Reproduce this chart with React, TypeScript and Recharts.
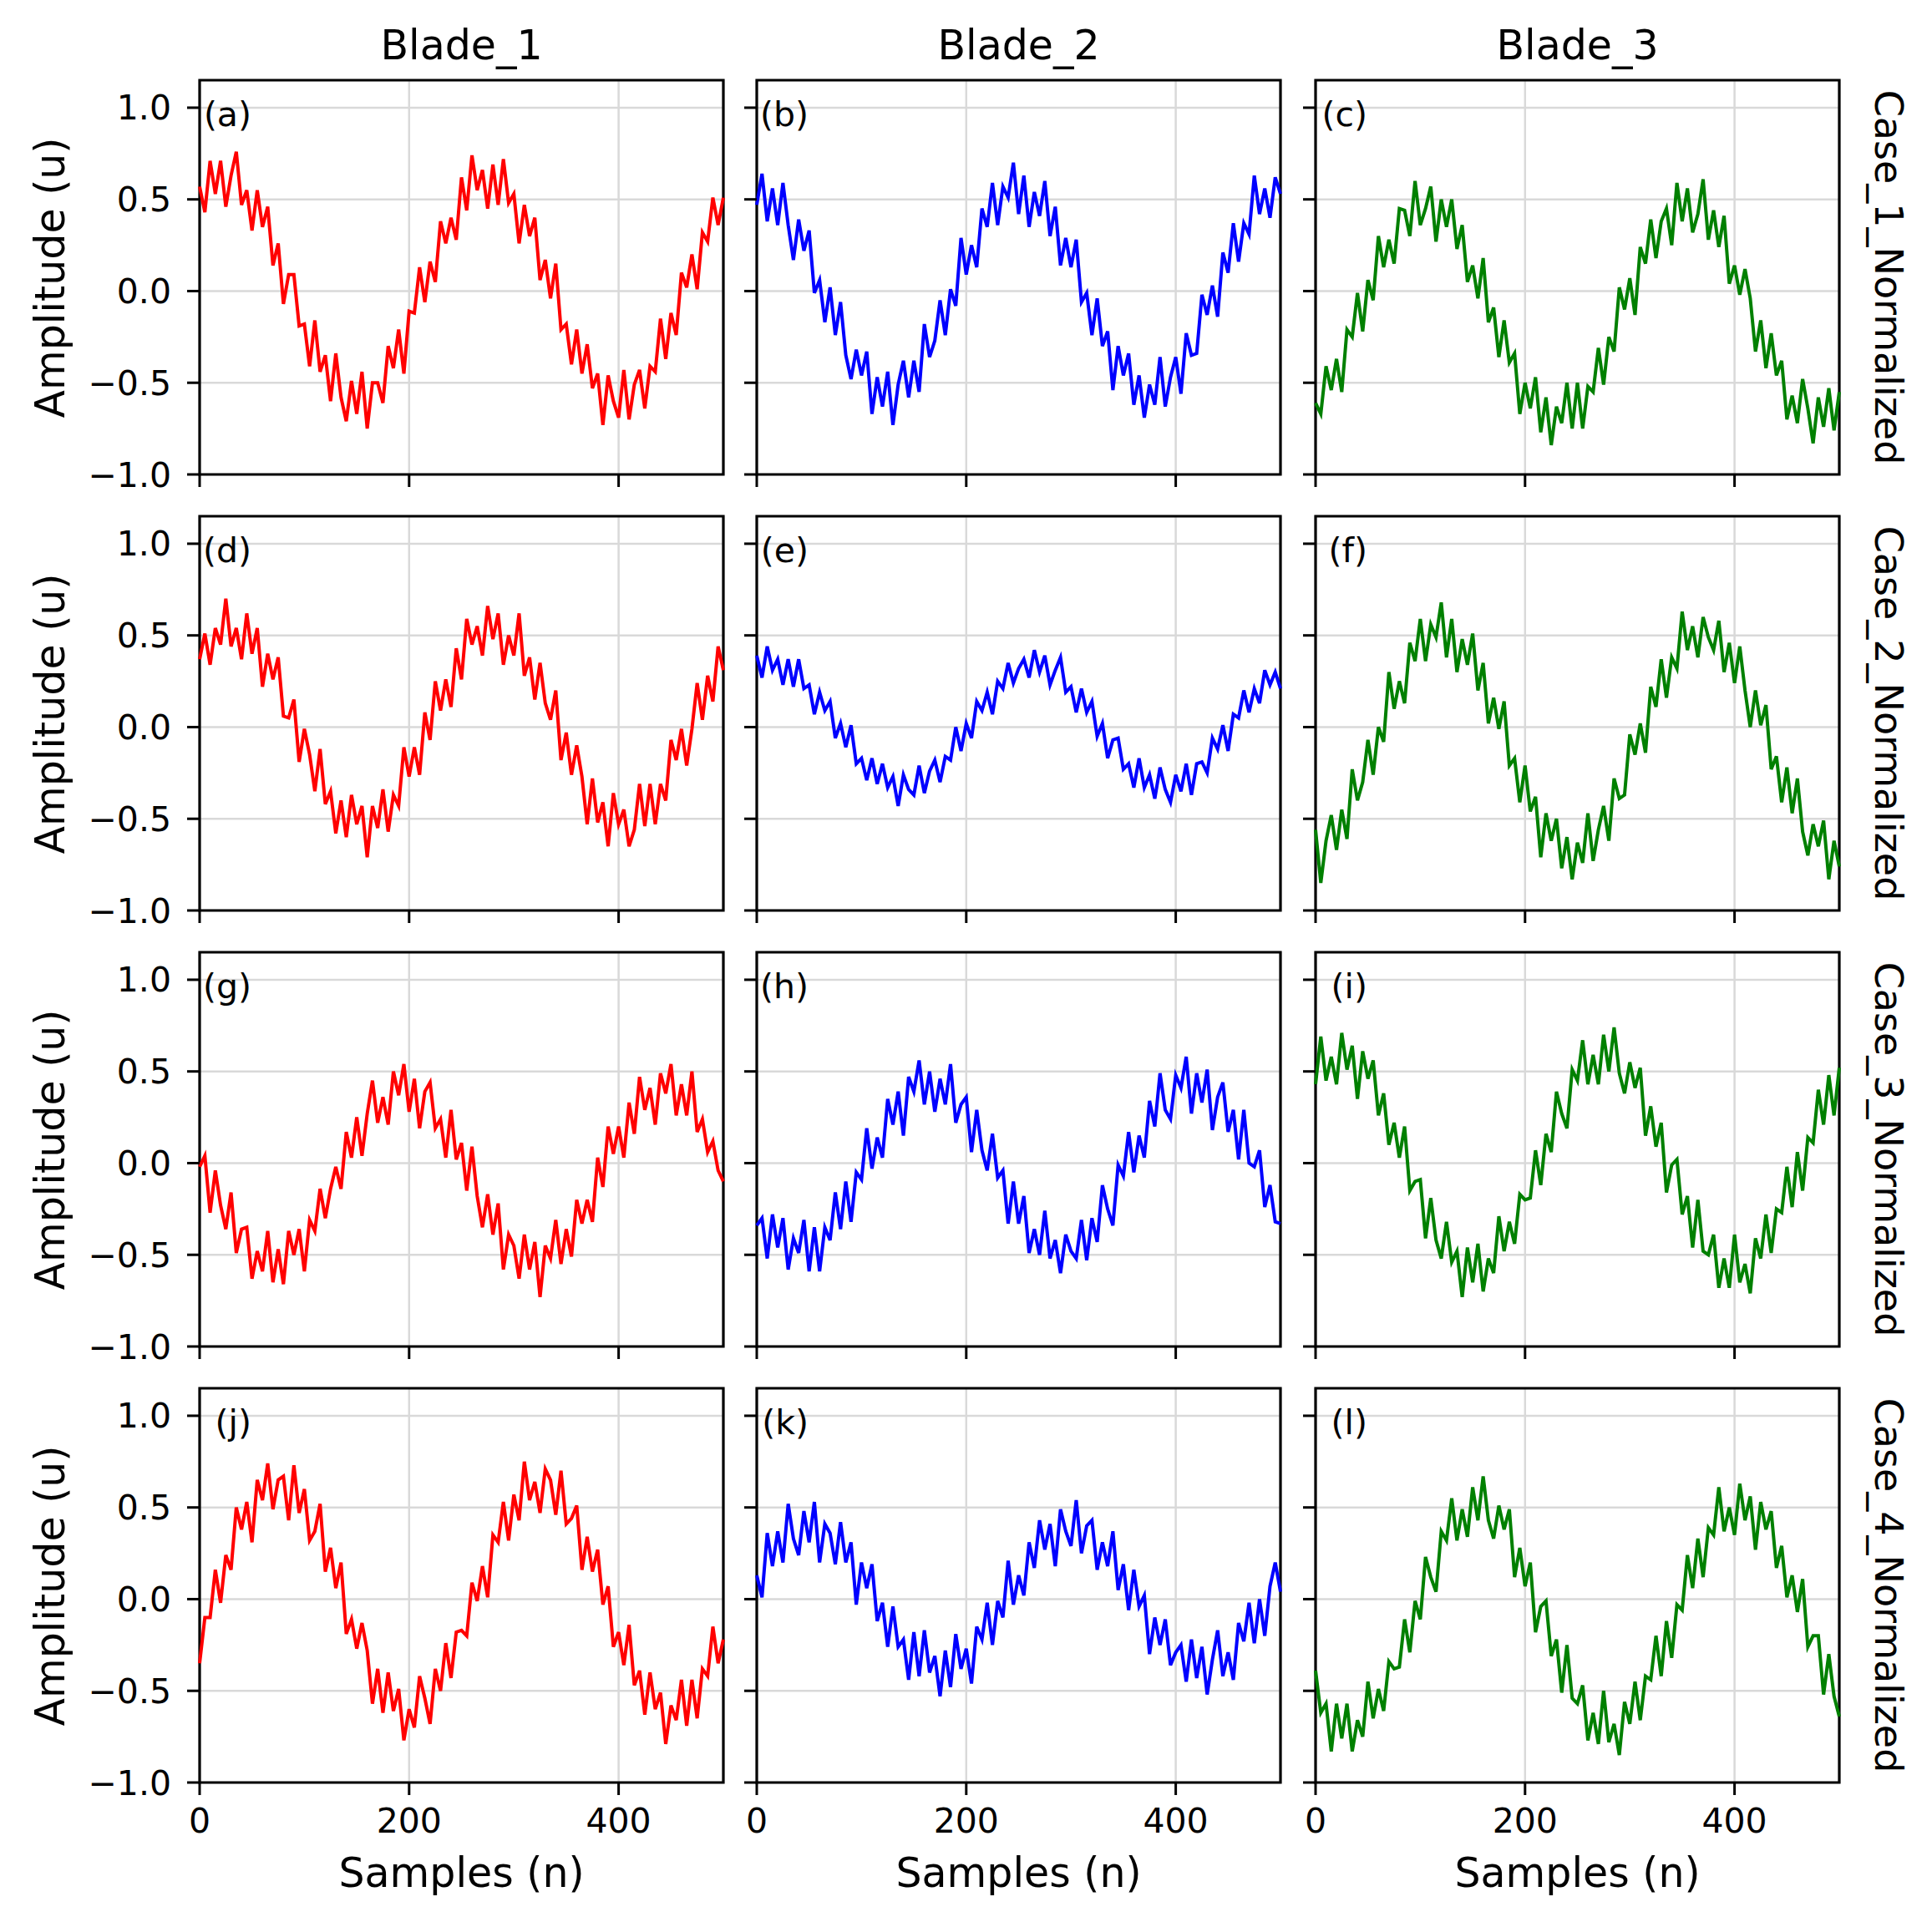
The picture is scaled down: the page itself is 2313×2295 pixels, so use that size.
import { CartesianGrid, Line, LineChart, ReferenceArea, XAxis, YAxis } from "recharts"

// amplitude every 5 samples (n = 0, 5, ..., 500)
const blade1Case1 = [
  0.57, 0.43, 0.71, 0.53, 0.71, 0.46, 0.63, 0.76, 0.47, 0.55,
  0.33, 0.55, 0.35, 0.46, 0.14, 0.26, -0.07, 0.09, 0.09, -0.19,
  -0.18, -0.41, -0.16, -0.44, -0.35, -0.6, -0.34, -0.58, -0.71, -0.49,
  -0.67, -0.44, -0.75, -0.5, -0.5, -0.61, -0.3, -0.42, -0.21, -0.45,
  -0.11, -0.12, 0.13, -0.06, 0.16, 0.05, 0.38, 0.26, 0.4, 0.28,
  0.62, 0.44, 0.74, 0.55, 0.66, 0.45, 0.69, 0.47, 0.72, 0.48,
  0.53, 0.26, 0.47, 0.3, 0.4, 0.06, 0.17, -0.04, 0.15, -0.21,
  -0.18, -0.4, -0.21, -0.45, -0.29, -0.53, -0.45, -0.73, -0.46, -0.6,
  -0.69, -0.43, -0.7, -0.51, -0.43, -0.64, -0.41, -0.44, -0.15, -0.37,
  -0.12, -0.24, 0.1, 0.02, 0.2, 0.01, 0.32, 0.27, 0.51, 0.36,
  0.51,
]
const blade2Case1 = [
  0.47, 0.64, 0.38, 0.56, 0.36, 0.59, 0.36, 0.17, 0.39, 0.22,
  0.33, -0.01, 0.06, -0.17, 0.02, -0.24, -0.06, -0.35, -0.48, -0.32,
  -0.46, -0.33, -0.67, -0.47, -0.63, -0.44, -0.73, -0.51, -0.38, -0.58,
  -0.38, -0.55, -0.18, -0.36, -0.27, -0.05, -0.24, 0.01, -0.08, 0.29,
  0.09, 0.25, 0.13, 0.45, 0.35, 0.59, 0.36, 0.57, 0.51, 0.7,
  0.42, 0.63, 0.35, 0.54, 0.41, 0.6, 0.3, 0.46, 0.14, 0.29,
  0.13, 0.28, -0.06, -0.01, -0.24, -0.04, -0.3, -0.22, -0.54, -0.3,
  -0.46, -0.34, -0.62, -0.46, -0.69, -0.51, -0.62, -0.36, -0.63, -0.47,
  -0.36, -0.56, -0.23, -0.35, -0.34, -0.02, -0.13, 0.03, -0.14, 0.21,
  0.1, 0.37, 0.16, 0.37, 0.31, 0.63, 0.42, 0.56, 0.4, 0.62,
  0.53,
]
const blade3Case1 = [
  -0.61, -0.67, -0.41, -0.54, -0.37, -0.55, -0.21, -0.25, -0.01, -0.22,
  0.06, -0.05, 0.3, 0.13, 0.28, 0.15, 0.45, 0.44, 0.3, 0.6,
  0.36, 0.45, 0.57, 0.27, 0.5, 0.35, 0.5, 0.23, 0.36, 0.05,
  0.14, -0.04, 0.18, -0.17, -0.09, -0.36, -0.16, -0.39, -0.34, -0.67,
  -0.5, -0.64, -0.47, -0.77, -0.58, -0.84, -0.63, -0.72, -0.5, -0.75,
  -0.5, -0.75, -0.52, -0.55, -0.31, -0.51, -0.25, -0.33, 0.02, -0.1,
  0.07, -0.13, 0.24, 0.15, 0.39, 0.18, 0.38, 0.45, 0.25, 0.59,
  0.38, 0.56, 0.32, 0.42, 0.61, 0.28, 0.44, 0.24, 0.41, 0.04,
  0.14, -0.02, 0.12, -0.04, -0.33, -0.16, -0.42, -0.23, -0.46, -0.38,
  -0.7, -0.57, -0.72, -0.48, -0.64, -0.83, -0.58, -0.74, -0.53, -0.76,
  -0.55,
]
const blade1Case2 = [
  0.37, 0.51, 0.34, 0.54, 0.45, 0.7, 0.44, 0.54, 0.37, 0.62,
  0.4, 0.54, 0.22, 0.4, 0.26, 0.38, 0.06, 0.05, 0.15, -0.19,
  -0.01, -0.15, -0.35, -0.12, -0.42, -0.35, -0.58, -0.4, -0.6, -0.37,
  -0.53, -0.43, -0.71, -0.43, -0.55, -0.34, -0.57, -0.37, -0.43, -0.11,
  -0.27, -0.11, -0.26, 0.08, -0.07, 0.25, 0.09, 0.26, 0.11, 0.43,
  0.26, 0.59, 0.45, 0.55, 0.39, 0.66, 0.48, 0.62, 0.34, 0.5,
  0.39, 0.62, 0.28, 0.38, 0.15, 0.35, 0.13, 0.04, 0.2, -0.18,
  -0.03, -0.26, -0.1, -0.27, -0.53, -0.28, -0.52, -0.41, -0.65, -0.36,
  -0.53, -0.45, -0.65, -0.56, -0.31, -0.54, -0.31, -0.53, -0.31, -0.4,
  -0.07, -0.18, -0.01, -0.21, -0.01, 0.24, 0.04, 0.28, 0.14, 0.44,
  0.31,
]
const blade2Case2 = [
  0.39, 0.27, 0.44, 0.31, 0.37, 0.23, 0.37, 0.22, 0.37, 0.21,
  0.23, 0.07, 0.19, 0.09, 0.14, -0.06, 0.02, -0.11, 0.01, -0.2,
  -0.17, -0.29, -0.17, -0.31, -0.2, -0.33, -0.27, -0.43, -0.26, -0.34,
  -0.37, -0.21, -0.36, -0.24, -0.18, -0.3, -0.16, -0.18, 0.0, -0.13,
  0.02, -0.06, 0.14, 0.09, 0.19, 0.07, 0.25, 0.21, 0.35, 0.24,
  0.32, 0.37, 0.27, 0.42, 0.3, 0.39, 0.23, 0.31, 0.38, 0.19,
  0.22, 0.08, 0.21, 0.08, 0.14, -0.05, 0.02, -0.17, -0.07, -0.06,
  -0.23, -0.2, -0.33, -0.17, -0.33, -0.26, -0.39, -0.22, -0.34, -0.41,
  -0.26, -0.35, -0.2, -0.37, -0.2, -0.19, -0.25, -0.06, -0.12, 0.01,
  -0.13, 0.07, 0.05, 0.2, 0.08, 0.21, 0.13, 0.31, 0.23, 0.3,
  0.21,
]
const blade3Case2 = [
  -0.56, -0.85, -0.62, -0.48, -0.67, -0.45, -0.61, -0.23, -0.4, -0.3,
  -0.07, -0.26, 0.0, -0.08, 0.3, 0.1, 0.25, 0.13, 0.46, 0.36,
  0.59, 0.36, 0.56, 0.49, 0.68, 0.38, 0.59, 0.3, 0.48, 0.34,
  0.51, 0.2, 0.35, 0.02, 0.16, -0.01, 0.14, -0.21, -0.17, -0.41,
  -0.21, -0.46, -0.38, -0.71, -0.47, -0.62, -0.5, -0.77, -0.6, -0.83,
  -0.63, -0.74, -0.47, -0.73, -0.56, -0.43, -0.62, -0.28, -0.39, -0.37,
  -0.04, -0.15, 0.02, -0.14, 0.22, 0.11, 0.37, 0.16, 0.38, 0.32,
  0.63, 0.42, 0.55, 0.38, 0.6, 0.49, 0.42, 0.58, 0.3, 0.46,
  0.24, 0.44, 0.2, 0.0, 0.2, 0.01, 0.12, -0.23, -0.16, -0.41,
  -0.22, -0.47, -0.28, -0.57, -0.7, -0.53, -0.65, -0.51, -0.83, -0.62,
  -0.76,
]
const blade1Case3 = [
  -0.02, 0.04, -0.27, -0.04, -0.23, -0.36, -0.16, -0.49, -0.36, -0.35,
  -0.63, -0.48, -0.59, -0.37, -0.65, -0.47, -0.66, -0.37, -0.5, -0.36,
  -0.59, -0.31, -0.37, -0.14, -0.3, -0.14, -0.02, -0.14, 0.17, 0.03,
  0.25, 0.04, 0.27, 0.45, 0.22, 0.36, 0.21, 0.5, 0.37, 0.54,
  0.28, 0.46, 0.19, 0.39, 0.44, 0.19, 0.24, 0.03, 0.29, 0.02,
  0.11, -0.15, 0.09, -0.18, -0.35, -0.17, -0.39, -0.22, -0.58, -0.39,
  -0.45, -0.63, -0.39, -0.58, -0.43, -0.73, -0.45, -0.52, -0.31, -0.55,
  -0.36, -0.51, -0.2, -0.33, -0.2, -0.32, 0.03, -0.13, 0.2, 0.05,
  0.2, 0.03, 0.33, 0.16, 0.47, 0.29, 0.41, 0.21, 0.49, 0.38,
  0.54, 0.26, 0.43, 0.26, 0.5, 0.17, 0.24, 0.06, 0.12, -0.04,
  -0.1,
]
const blade2Case3 = [
  -0.34, -0.3, -0.52, -0.28, -0.46, -0.3, -0.58, -0.41, -0.49, -0.31,
  -0.59, -0.35, -0.59, -0.35, -0.42, -0.16, -0.36, -0.1, -0.32, -0.05,
  -0.09, 0.19, -0.03, 0.14, 0.03, 0.35, 0.21, 0.39, 0.15, 0.47,
  0.39, 0.56, 0.32, 0.5, 0.28, 0.46, 0.32, 0.54, 0.22, 0.32,
  0.36, 0.06, 0.29, 0.07, -0.04, 0.16, -0.08, -0.04, -0.33, -0.1,
  -0.33, -0.18, -0.49, -0.36, -0.5, -0.26, -0.52, -0.42, -0.6, -0.39,
  -0.48, -0.52, -0.31, -0.53, -0.3, -0.43, -0.12, -0.25, -0.34, -0.01,
  -0.07, 0.17, -0.05, 0.15, 0.03, 0.34, 0.2, 0.49, 0.29, 0.24,
  0.48, 0.41, 0.58, 0.27, 0.49, 0.33, 0.51, 0.18, 0.36, 0.44,
  0.17, 0.29, 0.02, 0.29, 0.0, -0.02, 0.07, -0.24, -0.12, -0.32,
  -0.33,
]
const blade3Case3 = [
  0.43, 0.69, 0.45, 0.58, 0.43, 0.71, 0.51, 0.64, 0.35, 0.61,
  0.46, 0.56, 0.26, 0.38, 0.1, 0.22, 0.03, 0.2, -0.15, -0.1,
  -0.09, -0.41, -0.19, -0.42, -0.52, -0.32, -0.54, -0.48, -0.73, -0.46,
  -0.65, -0.44, -0.7, -0.52, -0.6, -0.29, -0.48, -0.32, -0.44, -0.17,
  -0.2, -0.19, 0.07, -0.12, 0.16, 0.06, 0.39, 0.27, 0.19, 0.51,
  0.45, 0.67, 0.43, 0.59, 0.43, 0.7, 0.5, 0.74, 0.49, 0.38,
  0.55, 0.41, 0.52, 0.15, 0.31, 0.09, 0.22, -0.16, -0.01, 0.02,
  -0.28, -0.18, -0.46, -0.2, -0.48, -0.5, -0.39, -0.68, -0.52, -0.68,
  -0.39, -0.65, -0.55, -0.71, -0.41, -0.52, -0.28, -0.49, -0.25, -0.27,
  -0.02, -0.24, 0.06, -0.15, 0.14, 0.11, 0.4, 0.21, 0.48, 0.26,
  0.52,
]
const blade1Case4 = [
  -0.35, -0.1, -0.1, 0.16, -0.02, 0.24, 0.16, 0.5, 0.38, 0.53,
  0.31, 0.65, 0.54, 0.74, 0.49, 0.65, 0.67, 0.43, 0.73, 0.47,
  0.6, 0.32, 0.37, 0.52, 0.15, 0.28, 0.06, 0.2, -0.19, -0.11,
  -0.27, -0.13, -0.28, -0.57, -0.38, -0.62, -0.4, -0.61, -0.49, -0.77,
  -0.6, -0.7, -0.42, -0.54, -0.68, -0.38, -0.5, -0.24, -0.43, -0.18,
  -0.17, -0.2, 0.09, -0.01, 0.18, 0.01, 0.35, 0.31, 0.53, 0.32,
  0.57, 0.43, 0.75, 0.54, 0.64, 0.47, 0.71, 0.65, 0.46, 0.7,
  0.41, 0.44, 0.51, 0.16, 0.34, 0.15, 0.27, -0.03, 0.07, -0.26,
  -0.18, -0.36, -0.14, -0.47, -0.39, -0.63, -0.4, -0.6, -0.51, -0.79,
  -0.58, -0.66, -0.44, -0.69, -0.44, -0.65, -0.38, -0.42, -0.15, -0.35,
  -0.22,
]
const blade2Case4 = [
  0.13, 0.01, 0.36, 0.18, 0.37, 0.2, 0.52, 0.33, 0.24, 0.48,
  0.31, 0.53, 0.2, 0.41, 0.36, 0.19, 0.42, 0.2, 0.31, -0.03,
  0.2, 0.06, 0.19, -0.12, -0.02, -0.26, -0.04, -0.26, -0.22, -0.44,
  -0.18, -0.42, -0.17, -0.4, -0.31, -0.53, -0.28, -0.48, -0.19, -0.38,
  -0.27, -0.46, -0.15, -0.22, -0.02, -0.25, -0.01, -0.1, 0.21, -0.03,
  0.13, 0.02, 0.31, 0.17, 0.43, 0.27, 0.41, 0.18, 0.49, 0.37,
  0.29, 0.54, 0.25, 0.4, 0.43, 0.16, 0.31, 0.18, 0.37, 0.05,
  0.19, -0.06, 0.16, -0.04, 0.02, -0.3, -0.1, -0.25, -0.11, -0.36,
  -0.29, -0.25, -0.45, -0.22, -0.43, -0.26, -0.52, -0.33, -0.17, -0.42,
  -0.29, -0.44, -0.13, -0.23, -0.02, -0.24, 0.0, -0.2, 0.07, 0.2,
  0.04,
]
const blade3Case4 = [
  -0.39, -0.62, -0.57, -0.83, -0.57, -0.76, -0.57, -0.83, -0.66, -0.75,
  -0.45, -0.65, -0.49, -0.61, -0.34, -0.38, -0.37, -0.11, -0.29, -0.01,
  -0.11, 0.23, 0.12, 0.04, 0.37, 0.32, 0.55, 0.32, 0.49, 0.34,
  0.61, 0.43, 0.67, 0.43, 0.33, 0.51, 0.38, 0.49, 0.12, 0.28,
  0.07, 0.2, -0.18, -0.04, -0.01, -0.31, -0.22, -0.51, -0.25, -0.54,
  -0.57, -0.47, -0.77, -0.62, -0.79, -0.5, -0.78, -0.68, -0.85, -0.56,
  -0.68, -0.45, -0.66, -0.42, -0.44, -0.2, -0.42, -0.12, -0.32, -0.03,
  -0.06, 0.24, 0.06, 0.33, 0.12, 0.39, 0.35, 0.61, 0.37, 0.5,
  0.35, 0.63, 0.43, 0.56, 0.27, 0.53, 0.38, 0.48, 0.17, 0.29,
  0.01, 0.13, -0.07, 0.11, -0.26, -0.2, -0.2, -0.52, -0.3, -0.53,
  -0.64,
]

const SAMPLE_STEP = 5

const blades = ["Blade_1", "Blade_2", "Blade_3"]
const cases = ["Case_1_Normalized", "Case_2_Normalized", "Case_3_Normalized", "Case_4_Normalized"]
const letters = [
  ["(a)", "(b)", "(c)"],
  ["(d)", "(e)", "(f)"],
  ["(g)", "(h)", "(i)"],
  ["(j)", "(k)", "(l)"],
]
const series = [
  [blade1Case1, blade2Case1, blade3Case1],
  [blade1Case2, blade2Case2, blade3Case2],
  [blade1Case3, blade2Case3, blade3Case3],
  [blade1Case4, blade2Case4, blade3Case4],
]
const bladeColors = ["#ff0000", "#0000ff", "#008000"]
const xTicks = [0, 200, 400]
const yTicks = [-1, -0.5, 0, 0.5, 1]
const X_DOMAIN: [number, number] = [0, 500]
const Y_DOMAIN: [number, number] = [-1, 1.15]

// plot-area geometry in page pixels
const COL_LEFT = [239, 906, 1575]
const ROW_TOP = [96, 618, 1140, 1662]
const PLOT_W = 627
const PLOT_H = 472

const FONT = "'DejaVu Sans', sans-serif"
const TICK_SIZE = 41
const LABEL_SIZE = 49
const CASE_SIZE = 46

const fmtY = (v: number) => (v < 0 ? "\u2212" : "") + Math.abs(v).toFixed(1)

function Panel({ row, col }: { row: number; col: number }) {
  const ml = 200
  const mt = 20
  const mr = 20
  const mb = 110
  const data = series[row][col].map((v, i) => ({ n: i * SAMPLE_STEP, v }))
  const showY = col === 0
  const showX = row === 3

  return (
    <div style={{ position: "absolute", left: COL_LEFT[col] - ml, top: ROW_TOP[row] - mt }}>
      <LineChart
        width={PLOT_W + ml + mr}
        height={PLOT_H + mt + mb}
        data={data}
        margin={{ top: mt, right: mr, left: 0, bottom: 0 }}
      >
        <CartesianGrid stroke="#d9d9d9" strokeWidth={2.5} />
        <XAxis
          dataKey="n"
          type="number"
          domain={X_DOMAIN}
          ticks={xTicks}
          height={mb}
          axisLine={false}
          tickLine={{ stroke: "#000", strokeWidth: 3 }}
          tickSize={15}
          tickMargin={16}
          tick={{ fontSize: TICK_SIZE, fill: "#000", fontFamily: FONT }}
          tickFormatter={(v) => (showX ? String(v) : "")}
        />
        <YAxis
          type="number"
          domain={Y_DOMAIN}
          ticks={yTicks}
          width={ml}
          axisLine={false}
          tickLine={{ stroke: "#000", strokeWidth: 3 }}
          tickSize={15}
          tickMargin={19}
          tick={{ fontSize: TICK_SIZE, fill: "#000", fontFamily: FONT }}
          tickFormatter={(v) => (showY ? fmtY(v) : "")}
          allowDataOverflow
        />
        <Line
          type="linear"
          dataKey="v"
          stroke={bladeColors[col]}
          strokeWidth={4}
          dot={false}
          isAnimationActive={false}
        />
        <ReferenceArea
          x1={X_DOMAIN[0]}
          x2={X_DOMAIN[1]}
          y1={Y_DOMAIN[0]}
          y2={Y_DOMAIN[1]}
          fill="#fff"
          fillOpacity={0}
          stroke="#000"
          strokeWidth={3.2}
        />
      </LineChart>
      <div
        style={{
          position: "absolute",
          left: ml + 62 - 120,
          width: 120,
          textAlign: "right",
          top: mt + 21,
          fontFamily: FONT,
          fontSize: TICK_SIZE,
          lineHeight: `${TICK_SIZE}px`,
          whiteSpace: "nowrap",
        }}
      >
        {letters[row][col]}
      </div>
    </div>
  )
}

const textBase = {
  position: "absolute" as const,
  fontFamily: FONT,
  fontSize: LABEL_SIZE,
  lineHeight: `${LABEL_SIZE}px`,
  whiteSpace: "nowrap" as const,
  textAlign: "center" as const,
  color: "#000",
}

export default function App() {
  return (
    <div
      style={{
        position: "absolute",
        left: 0,
        top: 0,
        width: 2313,
        height: 2295,
        background: "#fff",
        overflow: "hidden",
      }}
    >
      {ROW_TOP.map((_, r) => COL_LEFT.map((__, c) => <Panel key={`${r}-${c}`} row={r} col={c} />))}

      {blades.map((b, c) => (
        <div key={b} style={{ ...textBase, left: COL_LEFT[c], width: PLOT_W, top: 30 }}>
          {b}
        </div>
      ))}

      {COL_LEFT.map((left, c) => (
        <div key={`sx${c}`} style={{ ...textBase, left, width: PLOT_W, top: 2218 }}>
          Samples (n)
        </div>
      ))}

      {ROW_TOP.map((top, r) => (
        <div
          key={`amp${r}`}
          style={{
            ...textBase,
            left: 60 - 300,
            width: 600,
            top: top + PLOT_H / 2 - LABEL_SIZE / 2,
            transform: "rotate(-90deg)",
          }}
        >
          Amplitude (u)
        </div>
      ))}

      {cases.map((label, r) => (
        <div
          key={label}
          style={{
            ...textBase,
            fontSize: CASE_SIZE,
            lineHeight: `${CASE_SIZE}px`,
            left: 2261 - 300,
            width: 600,
            top: ROW_TOP[r] + PLOT_H / 2 - CASE_SIZE / 2,
            transform: "rotate(90deg)",
          }}
        >
          {label}
        </div>
      ))}
    </div>
  )
}
